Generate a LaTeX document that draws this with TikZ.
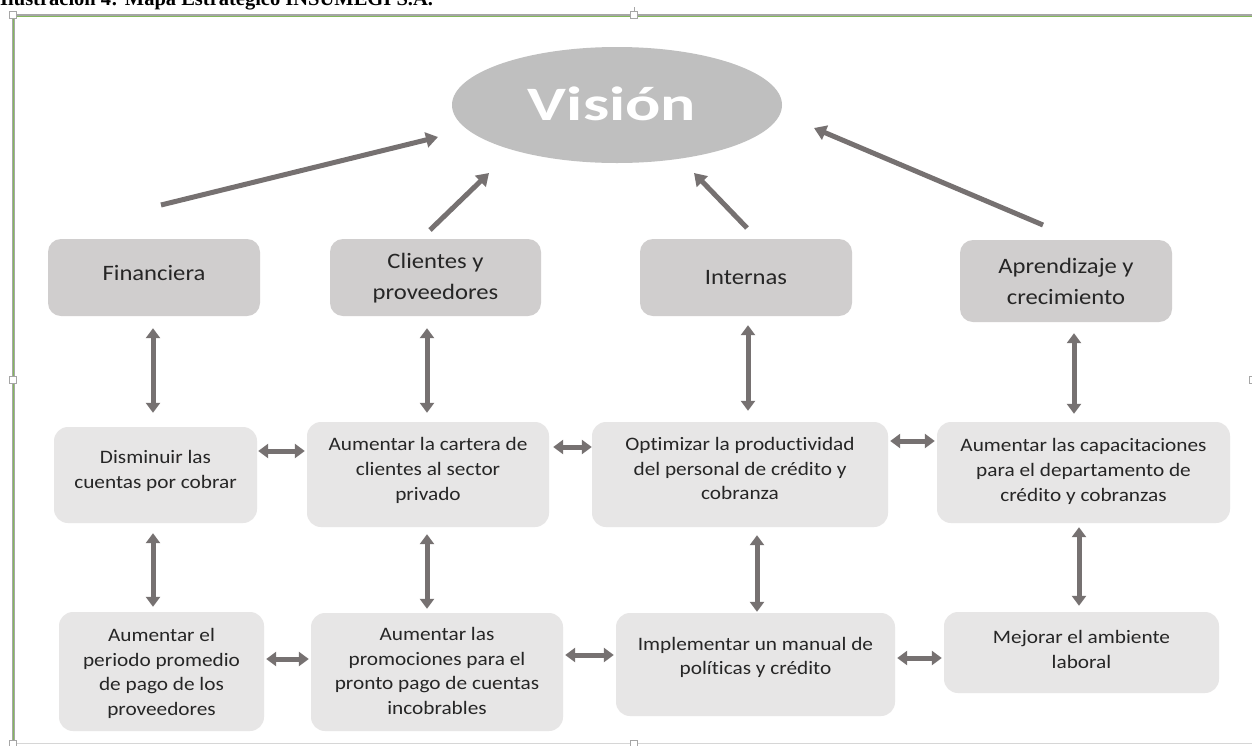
\documentclass[tikz,border=0pt]{standalone}
\usepackage{fontspec}
\setmainfont{Carlito}
\newfontfamily\boxfont[FakeStretch=1.12,Ligatures=NoCommon]{Carlito}
\newfontfamily\capfont{Liberation Serif}
\usetikzlibrary{arrows.meta,shapes.geometric}

\definecolor{arrowgray}{HTML}{767171}
\definecolor{headfill}{HTML}{D0CECE}
\definecolor{goalfill}{HTML}{E7E6E6}
\definecolor{visionfill}{HTML}{BFBFBF}
\definecolor{txt}{HTML}{262626}
\definecolor{framegreen}{HTML}{84B85C}
\definecolor{framegray}{HTML}{A6A6A6}

\tikzset{
  persp/.style={fill=headfill, rounded corners=13pt, inner sep=0pt},
  ptext/.style={text=txt, align=center, inner sep=0pt,
    font=\boxfont\fontsize{22}{31}\selectfont},
  goal/.style={fill=goalfill, rounded corners=14pt, inner sep=0pt},
  gtext/.style={text=txt, align=center, inner sep=0pt,
    font=\boxfont\fontsize{19}{24.8}\selectfont},
  up/.style={draw=arrowgray, line width=5pt, -{Triangle[length=12pt,width=15pt]}},
  link/.style={draw=arrowgray, line width=5pt,
    {Triangle[length=10pt,width=14pt]}-{Triangle[length=10pt,width=14pt]}},
  handle/.style={draw=framegray, fill=white, line width=0.9pt,
    minimum size=6.5pt, inner sep=0pt}
}

\begin{document}
\begin{tikzpicture}[x=1pt,y=-1pt]
\useasboundingbox (0,0) rectangle (1252,745);
\clip (0,0) rectangle (1252,745);
\fill[white] (0,0) rectangle (1252,745);

% caption above the frame
\node[anchor=base west, inner sep=0pt, font=\capfont\bfseries\fontsize{20.5}{22}\selectfont]
  (cap) at (0,5) {Ilustración 4: Mapa Estratégico INSUMEGI S.A.};

% frame of the drawing canvas
\draw[framegray, line width=2.8pt] (12,15.5) -- (1252,15.5);
\draw[framegreen, line width=1.3pt] (12,16.3) -- (1252,16.3);
\draw[framegray, line width=2.6pt] (13.5,15) -- (13.5,743.5);
\draw[framegreen, line width=1.3pt] (13.5,15) -- (13.5,743.5);
\draw[black!16, line width=1.2pt] (12,743.5) -- (1252,743.5);
\draw[framegray, line width=0.9pt] (634,7) -- (634,12);
\node[handle] (h1) at (13,15) {};
\node[handle] (h2) at (634,15) {};
\node[handle] (h3) at (13,380) {};
\node[handle] (h4) at (1253,380) {};
\node[handle] (h5) at (13,744) {};
\node[handle] (h6) at (634,744) {};

% vision
\node[ellipse, fill=visionfill, minimum width=330pt, minimum height=116pt, inner sep=0pt]
  (vision) at (617,105) {};
\node[text=white, inner sep=0pt, font=\bfseries\fontsize{48}{50}\selectfont]
  (vtext) at (612,104) {\scalebox{1.37}[1]{Visión}};

% perspectives
\node[persp, minimum width=212pt, minimum height=77pt] (f1) at (154,277.5) {};
\node[persp, minimum width=211pt, minimum height=77pt] (f2) at (435.5,277.5) {};
\node[persp, minimum width=212pt, minimum height=77pt] (f3) at (746,277.5) {};
\node[persp, minimum width=212pt, minimum height=82pt] (f4) at (1066,281) {};
\node[ptext] (f1t) at ([yshift=4pt]f1.center) {Financiera};
\node[ptext] (f2t) at ([yshift=-1pt]f2.center) {Clientes y\\proveedores};
\node[ptext] (f3t) at (f3.center) {Internas};
\node[ptext] (f4t) at (f4.center) {Aprendizaje y\\crecimiento};

% objectives, first row
\node[goal, minimum width=203pt, minimum height=96pt] (m1) at (155.5,475) {};
\node[goal, minimum width=242pt, minimum height=105pt] (m2) at (428,474.5) {};
\node[goal, minimum width=296pt, minimum height=105pt] (m3) at (740,474.5) {};
\node[goal, minimum width=293pt, minimum height=101pt] (m4) at (1083.5,472.5) {};
\node[gtext] (m1t) at ([yshift=4pt]m1.center) {Disminuir las\\cuentas por cobrar};
\node[gtext] (m2t) at ([yshift=4pt]m2.center) {Aumentar la cartera de\\clientes al sector\\privado};
\node[gtext] (m3t) at ([yshift=6pt]m3.center) {Optimizar la productividad\\del personal de crédito y\\cobranza};
\node[gtext] (m4t) at ([yshift=1pt]m4.center) {Aumentar las capacitaciones\\para el departamento de\\crédito y cobranzas};

% objectives, second row
\node[goal, minimum width=205pt, minimum height=119pt] (b1) at (161.5,671.5) {};
\node[goal, minimum width=252pt, minimum height=118pt] (b2) at (437,672) {};
\node[goal, minimum width=279pt, minimum height=103pt] (b3) at (755.5,664.5) {};
\node[goal, minimum width=275pt, minimum height=81pt] (b4) at (1081.5,652.5) {};
\node[gtext] (b1t) at ([yshift=-2pt]b1.center) {Aumentar el\\periodo promedio\\de pago de los\\proveedores};
\node[gtext] (b2t) at ([yshift=1pt]b2.center) {Aumentar las\\promociones para el\\pronto pago de cuentas\\incobrables};
\node[gtext] (b3t) at ([yshift=7pt]b3.center) {Implementar un manual de\\políticas y crédito};
\node[gtext] (b4t) at ([yshift=3pt]b4.center) {Mejorar el ambiente\\laboral};

% arrows up to the vision
\coordinate (s1) at (161,205);  \coordinate (t1) at (438,137);
\coordinate (s2) at (430,230);  \coordinate (t2) at (489,173);
\coordinate (s3) at (747,228);  \coordinate (t3) at (694,173);
\coordinate (s4) at (1043,225); \coordinate (t4) at (814,128);
\draw[up] (s1) -- (t1);
\draw[up] (s2) -- (t2);
\draw[up] (s3) -- (t3);
\draw[up] (s4) -- (t4);

% perspectives to first row
\draw[link, shorten <=12pt, shorten >=14pt] (f1.south -| 153,0) -- (m1.north -| 153,0);
\draw[link, shorten <=12pt, shorten >=9pt]  (f2.south -| 427,0) -- (m2.north -| 427,0);
\draw[link, shorten <=9pt,  shorten >=11pt] (f3.south -| 748,0) -- (m3.north -| 748,0);
\draw[link, shorten <=11pt, shorten >=8pt]  (f4.south -| 1074,0) -- (m4.north -| 1074,0);

% first row to second row
\draw[link, shorten <=10pt, shorten >=5pt] (m1.south -| 153,0) -- (b1.north -| 153,0);
\draw[link, shorten <=7pt,  shorten >=4pt] (m2.south -| 427,0) -- (b2.north -| 427,0);
\draw[link, shorten <=8pt,  shorten >=1pt] (m3.south -| 757,0) -- (b3.north -| 757,0);
\draw[link, shorten <=4pt,  shorten >=6pt] (m4.south -| 1079,0) -- (b4.north -| 1079,0);

% links within the rows
\draw[link, shorten <=1pt, shorten >=2pt] (m1.east |- 0,451) -- (m2.west |- 0,451);
\draw[link, shorten <=4pt, shorten >=0pt] (m2.east |- 0,447) -- (m3.west |- 0,447);
\draw[link, shorten <=2pt, shorten >=2pt] (m3.east |- 0,441) -- (m4.west |- 0,441);
\draw[link, shorten <=2pt, shorten >=2pt] (b1.east |- 0,659) -- (b2.west |- 0,659);
\draw[link, shorten <=2pt, shorten >=2pt] (b2.east |- 0,655) -- (b3.west |- 0,655);
\draw[link, shorten <=2pt, shorten >=2pt] (b3.east |- 0,658) -- (b4.west |- 0,658);
\end{tikzpicture}
\end{document}
